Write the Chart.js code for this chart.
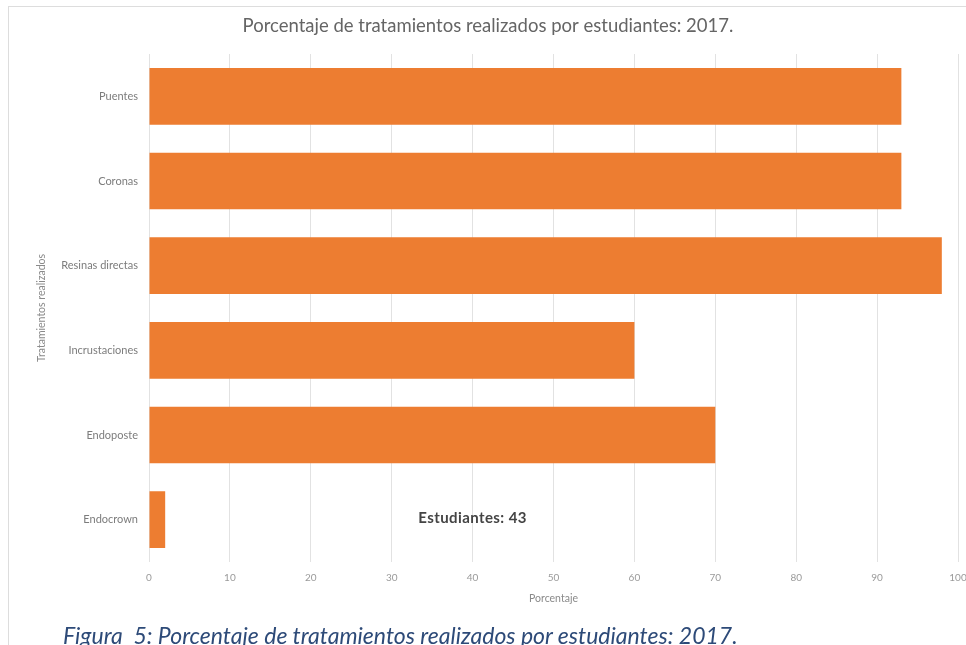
<!DOCTYPE html>
<html lang="es">
<head>
<meta charset="utf-8">
<title>Porcentaje de tratamientos realizados por estudiantes: 2017</title>
<script src="https://cdn.jsdelivr.net/npm/chart.js@4/dist/chart.umd.min.js"></script>
<style>
    html, body { margin: 0; padding: 0; background: #ffffff; }
    body { width: 966px; height: 645px; position: relative; overflow: hidden; }
    /* thin frame around the chart object */
    .frame {
        position: absolute; left: 8px; top: 6px; width: 1200px; height: 900px;
        border-left: 1px solid #dddddd; border-top: 1px solid #dddddd;
    }
    .chart-box { position: absolute; left: 0; top: 0; width: 966px; height: 622px; }
    .caption {
        position: absolute; left: 63px; top: 621px; white-space: nowrap;
        font-family: Lato, "Open Sans", sans-serif; font-style: italic; font-size: 23px;
        line-height: 28px; color: #2d4a78;
    }
</style>
</head>
<body>
<div class="frame"></div>
<div class="chart-box"><canvas id="treatmentsChart" width="966" height="622"></canvas></div>
<div class="caption">Figura&nbsp; 5: Porcentaje de tratamientos realizados por estudiantes: 2017.</div>

<script>
// Treatments and the share of students who performed each one
const treatments = ['Puentes', 'Coronas', 'Resinas directas', 'Incrustaciones', 'Endoposte', 'Endocrown'];
const percentages = [93, 93, 98, 60, 70, 2];
const xTicks = [0, 10, 20, 30, 40, 50, 60, 70, 80, 90, 100];
const studentCount = 43;

const FONT = 'Lato, "Open Sans", sans-serif';

// Writes the "Estudiantes: 43" note inside the plot, beside the Endocrown bar
const studentNote = {
    id: 'studentNote',
    afterDatasetsDraw(chart) {
        const { ctx, scales } = chart;
        const x = scales.x.getPixelForValue(40);
        const y = scales.y.getPixelForValue(treatments.length - 1);
        ctx.save();
        ctx.font = `bold 15px ${FONT}`;
        ctx.letterSpacing = '0.4px';
        ctx.fillStyle = '#444444';
        ctx.textAlign = 'center';
        ctx.textBaseline = 'middle';
        ctx.fillText(`Estudiantes: ${studentCount}`, x, y - 2);
        ctx.restore();
    }
};

const ctx = document.getElementById('treatmentsChart').getContext('2d');
new Chart(ctx, {
    type: 'bar',
    data: {
        labels: treatments,
        datasets: [{
            label: 'Porcentaje',
            data: percentages,
            backgroundColor: '#ed7d31',
            borderWidth: 0,
            categoryPercentage: 1,
            barPercentage: 0.67
        }]
    },
    options: {
        indexAxis: 'y',
        responsive: false,
        animation: false,
        layout: { padding: { left: 18, right: 8, top: 0, bottom: 0 } },
        scales: {
            x: {
                min: 0,
                max: 100,
                afterBuildTicks: scale => { scale.ticks = xTicks.map(v => ({ value: v })); },
                afterFit: scale => {
                    scale.height = 60;
                    // let the "100" label run past the edge instead of shrinking the plot
                    scale.paddingLeft = 0;
                    scale.paddingRight = 0;
                },
                grid: { color: '#e2e2e2', drawTicks: false },
                border: { display: false },
                ticks: { color: '#9a9a9a', padding: 10, font: { family: FONT, size: 10 } },
                title: {
                    display: true,
                    text: 'Porcentaje',
                    color: '#8a8a8a',
                    font: { family: FONT, size: 10.5 },
                    padding: { top: 0, bottom: 17 }
                }
            },
            y: {
                afterFit: scale => { scale.width = 131; },
                grid: { display: false, drawTicks: false },
                border: { display: false },
                ticks: { color: '#7c7c7c', padding: 11, font: { family: FONT, size: 11 } },
                title: {
                    display: true,
                    text: 'Tratamientos realizados',
                    color: '#8a8a8a',
                    font: { family: FONT, size: 10.5 },
                    padding: { top: 17, bottom: 0 }
                }
            }
        },
        plugins: {
            legend: { display: false },
            tooltip: { enabled: false },
            title: {
                display: true,
                text: 'Porcentaje de tratamientos realizados por estudiantes: 2017.',
                color: '#656565',
                font: { family: FONT, size: 18.5, weight: 'normal' },
                padding: { top: 15, bottom: 16.8 }
            }
        }
    },
    plugins: [studentNote]
});
</script>
</body>
</html>
